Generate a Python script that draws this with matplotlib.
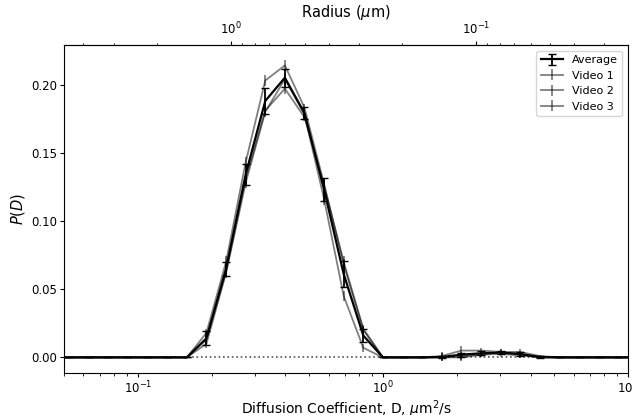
import matplotlib
matplotlib.use('Agg')
import matplotlib.pyplot as plt
import numpy as np

# Bin centres of the diffusion coefficient histogram, as log10(D / um^2/s)
logD = [-1.36, -1.28, -1.20, -1.12, -1.04, -0.96, -0.88,
        -0.80, -0.72, -0.64, -0.56, -0.48, -0.40, -0.32, -0.24, -0.16, -0.08, 0.00,
        0.08, 0.16,
        0.24, 0.32, 0.40, 0.48, 0.56, 0.64,
        0.72, 0.80, 0.88, 0.96, 1.04]

# P(D)
average = [0, 0, 0, 0, 0, 0, 0,
           0, 0.014, 0.065, 0.134, 0.188, 0.205, 0.179, 0.123, 0.061, 0.016, 0,
           0, 0,
           0.0003, 0.002, 0.003, 0.0035, 0.0025, 0.0003,
           0, 0, 0, 0, 0]
average_err = [0, 0, 0, 0, 0, 0, 0,
               0, 0.005, 0.005, 0.0075, 0.0095, 0.0065, 0.0045, 0.0085, 0.0095, 0.0045, 0,
               0, 0,
               0.0005, 0.0015, 0.0015, 0.001, 0.0012, 0.0005,
               0, 0, 0, 0, 0]
video1 = [0, 0, 0, 0, 0, 0, 0,
          0, 0.018, 0.070, 0.143, 0.203, 0.214, 0.183, 0.127, 0.068, 0.020, 0,
          0, 0,
          0.001, 0.005, 0.005, 0.004, 0.002, 0.0,
          0, 0, 0, 0, 0]
video2 = [0, 0, 0, 0, 0, 0, 0,
          0, 0.013, 0.063, 0.131, 0.181, 0.197, 0.176, 0.126, 0.070, 0.021, 0,
          0, 0,
          0.0, 0.001, 0.002, 0.004, 0.004, 0.001,
          0, 0, 0, 0, 0]
video3 = [0, 0, 0, 0, 0, 0, 0,
          0, 0.010, 0.062, 0.128, 0.180, 0.204, 0.178, 0.116, 0.045, 0.007, 0,
          0, 0,
          0.0, 0.0, 0.002, 0.0025, 0.0015, 0.0,
          0, 0, 0, 0, 0]
video_err = [0, 0, 0, 0, 0, 0, 0,
             0, 0.003, 0.004, 0.004, 0.004, 0.004, 0.003, 0.004, 0.004, 0.003, 0,
             0, 0,
             0.003, 0.003, 0.002, 0.002, 0.002, 0.001,
             0, 0, 0, 0, 0]

# Stokes-Einstein constant, r = K / D  (um^3/s)
K = 0.24

D = 10 ** np.array(logD)

fig = plt.figure(figsize=(6.34, 4.15), dpi=100)
ax = fig.add_axes([0.101, 0.101, 0.8896, 0.7906])

ax.axhline(0, color='#555555', linestyle=':', linewidth=1.2, zorder=1)

videos = [video1, video2, video3]
for i, v in enumerate(videos):
    ax.errorbar(D, v, yerr=video_err, color='k', alpha=0.5,
                linewidth=1.3, elinewidth=1.3, capsize=0,
                label='Video %d' % (i + 1), zorder=2)

ax.errorbar(D, average, yerr=average_err, color='k', linewidth=1.6,
            elinewidth=1.3, capsize=3, label='Average', zorder=3)

ax.set_xscale('log')
ax.set_xlim(0.05, 10)
ax.set_ylim(-0.0115, 0.229)
ax.tick_params(which='major', labelsize=8.5, length=3, pad=2)
ax.tick_params(which='minor', length=1.8)

ax.set_xlabel(r'Diffusion Coefficient, D, $\mu$m$^2$/s', fontsize=10, labelpad=1)
ax.set_ylabel(r'$P(D)$', fontsize=10.5, labelpad=3)

# Top axis with the equivalent particle radius
secax = ax.secondary_xaxis('top', functions=(lambda d: K / d, lambda r: K / r))
secax.set_xlabel(r'Radius ($\mu$m)', fontsize=10.5, labelpad=3)
secax.tick_params(which='major', labelsize=8.5, length=3, pad=2.5)
secax.tick_params(which='minor', length=1.8)

# Put Average first in the legend
handles, labels = ax.get_legend_handles_labels()
order = [3, 0, 1, 2]
ax.legend([handles[i] for i in order], [labels[i] for i in order],
          loc='upper right', fontsize=8)

fig.savefig('out.png', dpi=100)
